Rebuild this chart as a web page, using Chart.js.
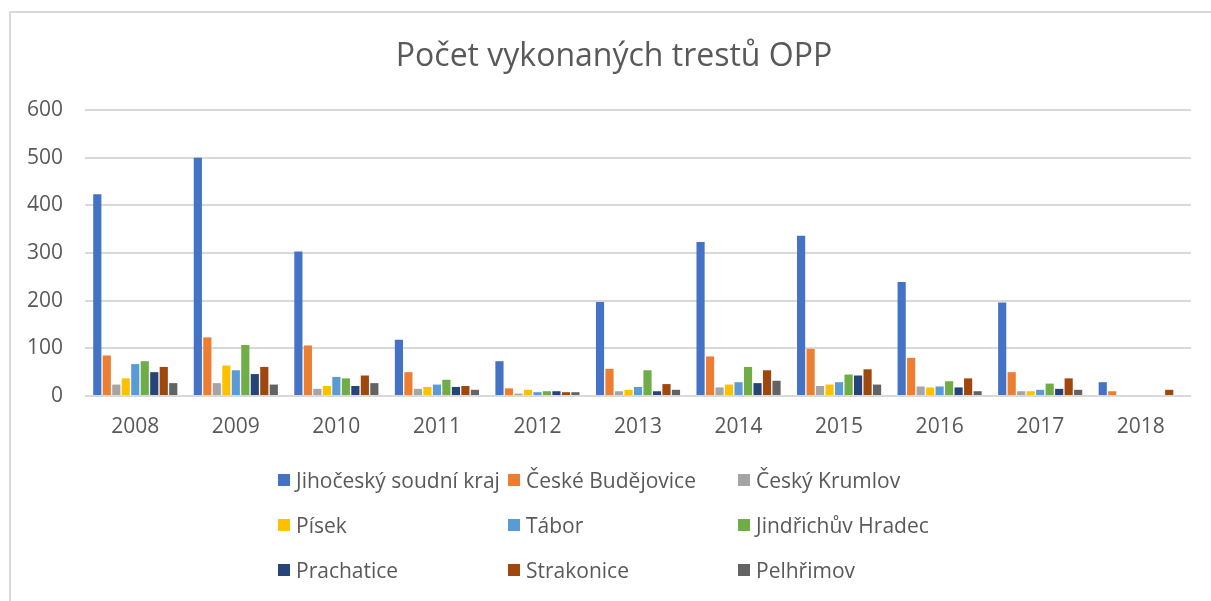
<!DOCTYPE html>
<html>
<head>
<meta charset="utf-8">
<script src="https://cdn.jsdelivr.net/npm/chart.js@4/dist/chart.umd.min.js"></script>
<style>
  html, body { margin: 0; padding: 0; background: #fff; overflow: hidden; }
  #wrap { position: relative; width: 1211px; height: 601px; }
  #frame { position: absolute; left: 9px; top: 11px; width: 1300px; height: 700px; border: 2px solid #d9d9d9; box-sizing: border-box; }
  #c { position: absolute; left: 0; top: 0; }
  #legend { position: absolute; left: 0; top: 0; width: 1211px; height: 601px; pointer-events: none;
    font-family: 'Open Sans', sans-serif; font-size: 21px; color: #595959; }
  .item { position: absolute; display: flex; align-items: center; white-space: nowrap; }
  .key { width: 12px; height: 12px; margin-right: 6px; }
</style>
</head>
<body>
<div id="wrap">
  <div id="frame"></div>
  <canvas id="c" width="1211" height="601"></canvas>
  <div id="legend"></div>
</div>
<script>
const years = ['2008', '2009', '2010', '2011', '2012', '2013', '2014', '2015', '2016', '2017', '2018'];

const jihocesky      = [423, 500, 303, 118, 73, 197, 323, 336, 239, 196, 29];
const budejovice     = [85, 123, 106, 50, 16, 57, 83, 99, 80, 50, 10];
const krumlov        = [24, 27, 15, 15, 5, 10, 18, 21, 20, 10, 0];
const pisek          = [37, 64, 21, 19, 13, 13, 24, 24, 18, 10, 0];
const tabor          = [67, 54, 40, 24, 8, 19, 29, 29, 20, 13, 0];
const jindrichuv     = [73, 107, 37, 34, 10, 54, 61, 45, 31, 26, 0];
const prachatice     = [50, 46, 21, 19, 10, 10, 27, 43, 18, 15, 0];
const strakonice     = [61, 61, 43, 21, 8, 25, 54, 56, 37, 37, 13];
const pelhrimov      = [27, 24, 27, 13, 8, 13, 32, 24, 10, 13, 0];

const seriesNames = ['Jihočeský soudní kraj', 'České Budějovice', 'Český Krumlov', 'Písek', 'Tábor',
  'Jindřichův Hradec', 'Prachatice', 'Strakonice', 'Pelhřimov'];
const seriesData = [jihocesky, budejovice, krumlov, pisek, tabor, jindrichuv, prachatice, strakonice, pelhrimov];
const colors = ['#4472C4', '#ED7D31', '#A5A5A5', '#FFC000', '#5B9BD5', '#70AD47', '#264478', '#9E480E', '#636363'];

const yTicks = [0, 100, 200, 300, 400, 500, 600];
const titleText = 'Počet vykonaných trestů OPP';

// the built-in title can only centre over the whole canvas, so draw it ourselves
const titlePlugin = {
  id: 'offsetTitle',
  afterDraw(chart) {
    const c = chart.ctx;
    c.save();
    c.font = '32px "Open Sans"';
    c.fillStyle = '#595959';
    c.textAlign = 'center';
    c.textBaseline = 'middle';
    c.fillText(titleText, 614, 57);
    c.restore();
  },
};

const ctx = document.getElementById('c').getContext('2d');
const chart = new Chart(ctx, {
  type: 'bar',
  data: {
    labels: years,
    datasets: seriesNames.map((name, i) => ({
      label: name,
      data: seriesData[i],
      backgroundColor: colors[i],
      borderWidth: 0,
      categoryPercentage: 0.85,
      barPercentage: 0.86,
    })),
  },
  options: {
    responsive: false,
    animation: false,
    layout: { padding: { left: 0, right: 20, top: 110, bottom: 155 } },
    scales: {
      x: {
        grid: { display: false, drawTicks: false },
        border: { display: false },
        ticks: { color: '#595959', font: { family: 'Open Sans', size: 21 }, padding: 18 },
        afterFit: s => { s.height = 50; },
      },
      y: {
        min: 0,
        max: 600,
        afterBuildTicks: s => { s.ticks = yTicks.map(v => ({ value: v })); },
        grid: { color: '#d9d9d9', lineWidth: 2, drawTicks: false },
        border: { display: false },
        ticks: { color: '#595959', font: { family: 'Open Sans', size: 21 }, padding: 22 },
        afterFit: s => { s.width = 85; },
      },
    },
    plugins: {
      legend: { display: false },
      tooltip: { enabled: false },
      title: { display: false },
    },
  },
  plugins: [titlePlugin],
});

// legend laid out as 3 columns x 3 rows, like the original
const legendEl = document.getElementById('legend');
const colX = [278, 508, 738];
const rowY = [480, 525, 570];
chart.data.datasets.forEach((ds, i) => {
  const item = document.createElement('div');
  item.className = 'item';
  item.style.left = colX[i % 3] + 'px';
  item.style.top = (rowY[Math.floor(i / 3)] - 15) + 'px';
  item.style.height = '30px';
  item.innerHTML = `<span class="key" style="background:${ds.backgroundColor}"></span><span>${ds.label}</span>`;
  legendEl.appendChild(item);
});
</script>
</body>
</html>
